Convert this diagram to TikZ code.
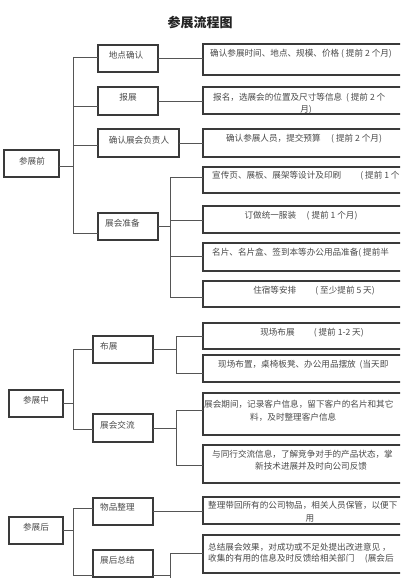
\documentclass[tikz,border=0pt]{standalone}
\usepackage{fontspec}
\newfontfamily\cjk{Noto Sans CJK SC}
\definecolor{boxc}{HTML}{3A3A3A}
\definecolor{linec}{HTML}{555555}
\definecolor{txtc}{HTML}{4A4A4A}
\definecolor{titc}{HTML}{222222}
\tikzset{
  box/.style={draw=boxc, line width=1.2pt, inner sep=0pt, outer sep=0pt, anchor=north west},
  conn/.style={draw=linec, line width=0.9pt},
  txt/.style={font=\cjk\fontsize{8.6}{10}\selectfont, text=txtc, inner sep=0pt},
  ttl/.style={font=\cjk\bfseries\fontsize{13}{15}\selectfont, text=titc, inner sep=0pt}
}
\newcommand{\bx}[5]{\node[box, minimum width={#4pt-#2pt}, minimum height={#5pt-#3pt}] (#1) at (#2,#3) {};}
\begin{document}
\begin{tikzpicture}[x=1pt,y=-1pt]
\useasboundingbox (0,0) rectangle (400,578);
\clip (0,0) rectangle (400,578);
\fill[white] (0,0) rectangle (400,578);
\node[ttl] (title) at (200,23) {参展流程图};
% level 1
\bx{qian}{4}{150}{59}{177}
\bx{zhong}{9}{390}{63}{417}
\bx{hou}{9}{517}{63}{544}
% level 2
\bx{a1}{98}{45}{158}{72}
\bx{a2}{98}{87}{158}{115}
\bx{a3}{98}{129}{179}{157}
\bx{a4}{98}{213}{158}{240}
\bx{b1}{93}{336}{153}{363}
\bx{b2}{93}{414}{153}{442}
\bx{c1}{93}{498}{153}{525}
\bx{c2}{93}{550}{153}{577}
% right boxes
\bx{r1}{203}{44}{410}{75}
\bx{r2}{203}{87}{410}{114}
\bx{r3}{203}{129}{410}{157}
\bx{r4}{203}{167}{410}{193}
\bx{r5}{203}{206}{410}{233}
\bx{r6}{203}{243}{410}{271}
\bx{r7}{203}{281}{410}{307}
\bx{r8}{203}{323}{410}{349}
\bx{r9}{203}{355}{410}{382}
\bx{r10}{203}{393}{410}{435}
\bx{r11}{203}{445}{410}{483}
\bx{r12}{203}{497}{410}{524}
\bx{r13}{203}{535}{410}{573}
% texts level 1/2
\node[txt] (tq) at (32,161) {参展前};
\node[txt] (tz) at (36,400) {参展中};
\node[txt] (th) at (36,527) {参展后};
\node[txt] (ta1) at (126,55) {地点确认};
\node[txt] (ta2) at (128,97) {报展};
\node[txt] (ta3) at (139,140) {确认展会负责人};
\node[txt, anchor=west] (ta4) at (105,223) {展会准备};
\node[txt, anchor=west] (tb1) at (100,346) {布展};
\node[txt, anchor=west] (tb2) at (100,425) {展会交流};
\node[txt, anchor=west] (tc1) at (100,507) {物品整理};
\node[txt, anchor=west] (tc2) at (100,560) {展后总结};
% texts right
\node[txt, anchor=west] (tr1) at (210,54) {确认参展时间、地点、规模、价格 ( 提前 2 个月)};
\node[txt, anchor=west] (tr2a) at (213,98) {报名，选展会的位置及尺寸等信息 \ ( 提前 2 个};
\node[txt] (tr2b) at (306,110) {月)};
\node[txt] (tr3) at (304,139) {确认参展人员，提交预算 \quad ( 提前 2 个月)};
\node[txt, anchor=west] (tr4) at (212,176) {宣传页、展板、展架等设计及印刷 \qquad ( 提前 1 个};
\node[txt] (tr5) at (301,216) {订做统一服装 \quad ( 提前 1 个月)};
\node[txt, anchor=west] (tr6) at (212,253) {名片、名片盒、签到本等办公用品准备( 提前半};
\node[txt] (tr7) at (314,291) {住宿等安排 \qquad ( 至少提前 5 天)};
\node[txt] (tr8) at (312,333) {现场布展 \qquad ( 提前 1-2 天)};
\node[txt, anchor=west] (tr9) at (218,365) {现场布置，桌椅板凳、办公用品摆放 \ (当天即};
\node[txt, anchor=west] (tr10a) at (204,404) {展会期间，记录客户信息，留下客户的名片和其它};
\node[txt, anchor=west] (tr10b) at (250,417) {料，及时整理客户信息};
\node[txt, anchor=west] (tr11a) at (212,454) {与同行交流信息，了解竞争对手的产品状态，掌};
\node[txt, anchor=west] (tr11b) at (255,466) {新技术进展并及时向公司反馈};
\node[txt, anchor=west] (tr12a) at (208,505) {整理带回所有的公司物品，相关人员保管，以便下};
\node[txt] (tr12b) at (310,519) {用};
\node[txt, anchor=west] (tr13a) at (208,547) {总结展会效果，对成功或不足处提出改进意见 ，};
\node[txt, anchor=west] (tr13b) at (208,559) {收集的有用的信息及时反馈给相关部门 \quad (展会后};
% connectors group A
\coordinate (A0) at (73,166);
\coordinate (Atop) at (73,57);
\coordinate (A2) at (73,106);
\coordinate (A3) at (73,145);
\coordinate (Abot) at (73,233);
\draw[conn] (qian.east |- A0) -- (A0);
\draw[conn] (Atop) -- (Abot);
\draw[conn] (Atop) -- (a1.west |- Atop);
\draw[conn] (A2) -- (a2.west |- A2);
\draw[conn] (A3) -- (a3.west |- A3);
\draw[conn] (Abot) -- (a4.west |- Abot);
\draw[conn] (a1.east) -- (r1.west |- a1.east);
\draw[conn] (a2.east) -- (r2.west |- a2.east);
\draw[conn] (a3.east) -- (r3.west |- a3.east);
\coordinate (Dtop) at (170,177);
\coordinate (D5) at (170,220);
\coordinate (D6) at (170,256);
\coordinate (Dbot) at (170,297);
\draw[conn] (a4.east) -- (Dtop |- a4.east);
\draw[conn] (Dtop) -- (Dbot);
\draw[conn] (Dtop) -- (r4.west |- Dtop);
\draw[conn] (D5) -- (r5.west |- D5);
\draw[conn] (D6) -- (r6.west |- D6);
\draw[conn] (Dbot) -- (r7.west |- Dbot);
% group B
\coordinate (Btop) at (73,349);
\coordinate (Bbot) at (73,429);
\draw[conn] (zhong.east) -- (Btop |- zhong.east);
\draw[conn] (Btop) -- (Bbot);
\draw[conn] (Btop) -- (b1.west |- Btop);
\draw[conn] (Bbot) -- (b2.west |- Bbot);
\coordinate (Etop) at (176,336);
\coordinate (Ebot) at (176,373);
\draw[conn] (b1.east) -- (Etop |- b1.east);
\draw[conn] (Etop) -- (Ebot);
\draw[conn] (Etop) -- (r8.west |- Etop);
\draw[conn] (Ebot) -- (r9.west |- Ebot);
\coordinate (Ftop) at (176,410);
\coordinate (Fbot) at (176,465);
\draw[conn] (b2.east) -- (Ftop |- b2.east);
\draw[conn] (Ftop) -- (Fbot);
\draw[conn] (Ftop) -- (r10.west |- Ftop);
\draw[conn] (Fbot) -- (r11.west |- Fbot);
% group C
\coordinate (Ctop) at (73,508);
\coordinate (Cbot) at (73,575);
\draw[conn] (hou.east) -- (Ctop |- hou.east);
\draw[conn] (Ctop) -- (Cbot);
\draw[conn] (Ctop) -- (c1.west |- Ctop);
\draw[conn] (Cbot) -- (c2.west |- Cbot);
\draw[conn] (c1.east) -- (r12.west |- c1.east);
\coordinate (Gtop) at (170,553);
\coordinate (Gbot) at (170,590);
\draw[conn] (c2.east |- Cbot) -- (Gtop |- Cbot);
\draw[conn] (Gtop) -- (Gbot);
\draw[conn] (Gtop) -- (r13.west |- Gtop);
\end{tikzpicture}
\end{document}
